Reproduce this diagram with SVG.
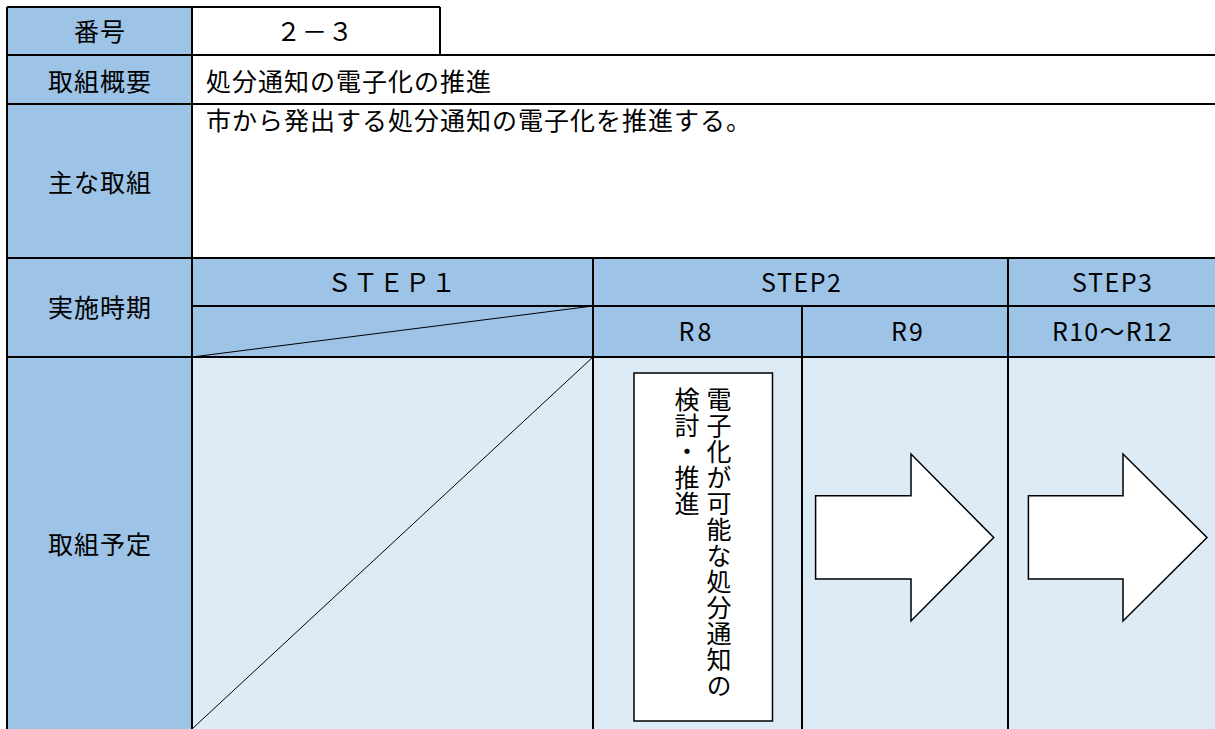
<svg xmlns="http://www.w3.org/2000/svg" width="1215" height="729" viewBox="0 0 1215 729">
<style>
.t{font-family:"Noto Sans CJK JP","Noto Sans",sans-serif;font-size:25px;fill:#000;letter-spacing:1px}
.l{font-family:"Noto Sans CJK JP","Noto Sans",sans-serif;font-size:25px;fill:#000}
.m{text-anchor:middle}
.grid{stroke:#000;stroke-width:2;fill:none}
.diag{stroke:#000;stroke-width:1;fill:none}
.hd{fill:#9DC3E6}
.lt{fill:#DDEBF7}
.wh{fill:#FFFFFF}
.shape{fill:#FFFFFF;stroke:#000;stroke-width:1.5}
.v{font-family:"Noto Sans CJK JP",sans-serif;font-size:25px;fill:#000;writing-mode:vertical-rl;letter-spacing:1px}
</style>
<rect x="0" y="0" width="1215" height="729" fill="#FFFFFF"/>
<g id="backgrounds">
<rect class="hd" x="7" y="7" width="185" height="722"/>
<rect class="wh" x="192" y="7" width="248" height="48"/>
<rect class="hd" x="192" y="258" width="1023" height="99"/>
<rect class="lt" x="192" y="357" width="1023" height="372"/>
</g>
<g id="grid">
<path class="grid" d="M7,7H440M7,55H1215M7,104H1215M7,258H1215M192,306H1215M7,357H1215M7,7V729M192,7V729M440,7V55M593,258V729M802,306V729M1008,258V729"/>
<line class="diag" x1="192" y1="357" x2="593" y2="306"/>
<line class="diag" x1="593" y1="357" x2="192" y2="729"/>
</g>
<g id="labels">
<text class="t m" x="100" y="41">番号</text>
<text class="t m" x="100" y="91">取組概要</text>
<text class="t m" x="100" y="192">主な取組</text>
<text class="t m" x="100" y="317">実施時期</text>
<text class="t m" x="100" y="554">取組予定</text>
<text class="t m" x="315" y="41">２－３</text>
<text class="t" x="206" y="91">処分通知の電子化の推進</text>
<text class="t" x="206" y="130">市から発出する処分通知の電子化を推進する。</text>
<text class="t m" x="392" y="292">ＳＴＥＰ１</text>
<text class="l m" x="801" y="292" textLength="80" lengthAdjust="spacing">STEP2</text>
<text class="l m" x="1112" y="292" textLength="80" lengthAdjust="spacing">STEP3</text>
<text class="l m" x="695" y="341" textLength="33" lengthAdjust="spacing">R8</text>
<text class="l m" x="907" y="341" textLength="32" lengthAdjust="spacing">R9</text>
<text class="l m" x="1112" y="341" textLength="120" lengthAdjust="spacing">R10～R12</text>
</g>
<g id="task-box">
<rect class="shape" x="634" y="373" width="138.5" height="348"/>
<text class="v" x="719" y="387">電子化が可能な処分通知の</text>
<text class="v" x="687" y="387">検討・推進</text>
</g>
<g id="arrow-r9">
<polygon class="shape" points="815.6,495.7 911,495.7 911,454 993.7,537.5 911,621 911,579 815.6,579"/>
</g>
<g id="arrow-r10">
<polygon class="shape" points="1028.4,495.7 1123,495.7 1123,454 1207,537.5 1123,621 1123,579 1028.4,579"/>
</g>
</svg>
